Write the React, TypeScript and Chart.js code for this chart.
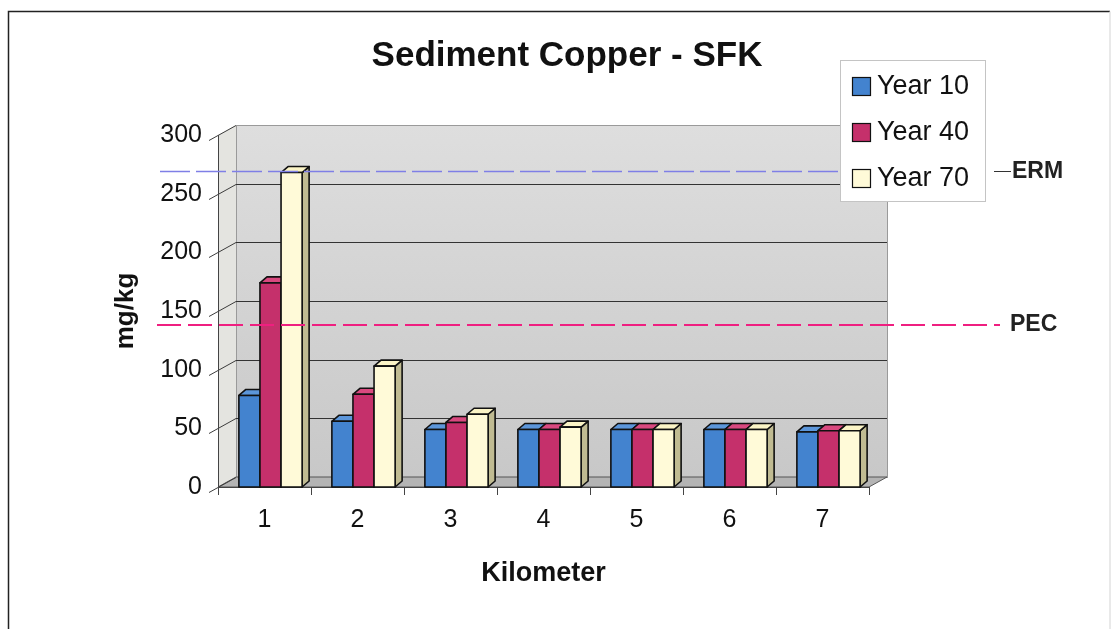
import React, { useEffect, useRef } from "react";
import { Chart, registerables } from "chart.js";

Chart.register(...registerables);

const categories = ["1", "2", "3", "4", "5", "6", "7"];
const seriesNames = ["Year 10", "Year 40", "Year 70"];
const year10 = [78, 56, 49, 49, 49, 49, 47];
const year40 = [174, 79, 55, 49, 49, 49, 48];
const year70 = [268, 103, 62, 51, 49, 49, 48];
const yTicks = [0, 50, 100, 150, 200, 250, 300];
const ermValue = 269;
const pecValue = 138;

const FONT = "'Liberation Sans', Arial, Helvetica, sans-serif";
const frontColors = ["#4383cf", "#c5306b", "#fffad8"];
const sideColors = ["#2f5f9a", "#8e2150", "#c0bb92"];
const topColors = ["#5c96da", "#d9497f", "#fbf4c6"];

const DX = 18;
const DY = -10;
const BDX = 7;
const BDY = -6;
const SHIFT = 6;

const threeD = {
  id: "threeD",
  beforeDatasetsDraw(chart: any) {
    const { ctx, chartArea: a, scales } = chart;
    const y = scales.y;
    const x = scales.x;
    ctx.save();
    // back wall
    const g = ctx.createLinearGradient(0, a.top + DY, 0, a.bottom + DY);
    g.addColorStop(0, "#dedede");
    g.addColorStop(1, "#c8c8c8");
    ctx.fillStyle = g;
    ctx.fillRect(a.left + DX, a.top + DY, a.right - a.left, a.bottom - a.top);
    ctx.strokeStyle = "#9a9a9a";
    ctx.lineWidth = 1;
    ctx.strokeRect(a.left + DX + 0.5, a.top + DY + 0.5, a.right - a.left, a.bottom - a.top);
    // side wall
    ctx.beginPath();
    ctx.moveTo(a.left, a.top);
    ctx.lineTo(a.left + DX, a.top + DY);
    ctx.lineTo(a.left + DX, a.bottom + DY);
    ctx.lineTo(a.left, a.bottom);
    ctx.closePath();
    ctx.fillStyle = "#e4e4e0";
    ctx.fill();
    // floor
    ctx.beginPath();
    ctx.moveTo(a.left, a.bottom);
    ctx.lineTo(a.left + DX, a.bottom + DY);
    ctx.lineTo(a.right + DX, a.bottom + DY);
    ctx.lineTo(a.right, a.bottom);
    ctx.closePath();
    ctx.fillStyle = "#b4b4b4";
    ctx.fill();
    ctx.strokeStyle = "#555";
    ctx.stroke();
    // gridlines on back wall + slanted ticks
    yTicks.forEach((v) => {
      const py = Math.round(y.getPixelForValue(v)) + 0.5;
      if (v > 0 && v < 300) {
        ctx.beginPath();
        ctx.moveTo(a.left + DX, py + DY);
        ctx.lineTo(a.right + DX, py + DY);
        ctx.strokeStyle = "#333";
        ctx.lineWidth = 1.2;
        ctx.stroke();
      }
      ctx.beginPath();
      ctx.moveTo(a.left - 9, py + 5);
      ctx.lineTo(a.left + DX, py + DY);
      ctx.strokeStyle = "#3c3c3c";
      ctx.lineWidth = 1;
      ctx.stroke();
    });
    // front y axis
    ctx.beginPath();
    ctx.moveTo(a.left + 0.5, a.top);
    ctx.lineTo(a.left + 0.5, a.bottom);
    ctx.strokeStyle = "#444";
    ctx.stroke();
    // x axis + ticks at category boundaries
    ctx.beginPath();
    ctx.moveTo(a.left, a.bottom + 0.5);
    ctx.lineTo(a.right, a.bottom + 0.5);
    for (let j = 0; j <= categories.length; j++) {
      const px = Math.round(x.getPixelForValue(j - 0.5)) + 0.5;
      ctx.moveTo(px, a.bottom);
      ctx.lineTo(px, a.bottom + 8);
    }
    ctx.strokeStyle = "#444";
    ctx.stroke();
    ctx.restore();
    ctx.save();
    ctx.translate(SHIFT, 0);
  },
  afterDatasetsDraw(chart: any) {
    const { ctx } = chart;
    const metas = [0, 1, 2].map((i) => chart.getDatasetMeta(i));
    ctx.lineWidth = 1.6;
    ctx.strokeStyle = "#111";
    ctx.lineJoin = "round";
    for (let j = 0; j < categories.length; j++) {
      for (let i = 0; i < metas.length; i++) {
        const el = metas[i].data[j];
        const { x, y, base, width } = el.getProps(["x", "y", "base", "width"], true);
        const l = x - width / 2;
        const r = x + width / 2;
        // side face
        ctx.beginPath();
        ctx.moveTo(r, y);
        ctx.lineTo(r + BDX, y + BDY);
        ctx.lineTo(r + BDX, base + BDY);
        ctx.lineTo(r, base);
        ctx.closePath();
        ctx.fillStyle = sideColors[i];
        ctx.fill();
        ctx.stroke();
        // top face
        ctx.beginPath();
        ctx.moveTo(l, y);
        ctx.lineTo(l + BDX, y + BDY);
        ctx.lineTo(r + BDX, y + BDY);
        ctx.lineTo(r, y);
        ctx.closePath();
        ctx.fillStyle = topColors[i];
        ctx.fill();
        ctx.stroke();
        // front face
        ctx.fillStyle = frontColors[i];
        ctx.fillRect(l, y, width, base - y);
        ctx.strokeRect(l, y, width, base - y);
      }
    }
    ctx.restore();
  },
  afterDraw(chart: any) {
    const { ctx, scales } = chart;
    const y = scales.y;
    ctx.save();
    // outer frame
    ctx.lineWidth = 1.5;
    ctx.strokeStyle = "#222";
    ctx.beginPath();
    ctx.moveTo(8.5, 629);
    ctx.lineTo(8.5, 11.5);
    ctx.lineTo(1110, 11.5);
    ctx.stroke();
    ctx.strokeStyle = "#e2e2e2";
    ctx.beginPath();
    ctx.moveTo(1110, 11.5);
    ctx.lineTo(1110, 629);
    ctx.stroke();

    // title
    ctx.fillStyle = "#111";
    ctx.font = `bold 35px ${FONT}`;
    ctx.textAlign = "center";
    ctx.textBaseline = "middle";
    ctx.fillText("Sediment Copper - SFK", 567, 56);

    // ERM line
    const yErm = Math.round(y.getPixelForValue(ermValue)) + 0.5;
    ctx.setLineDash([30, 6]);
    ctx.strokeStyle = "#7f7fe6";
    ctx.lineWidth = 1.3;
    ctx.beginPath();
    ctx.moveTo(160, yErm);
    ctx.lineTo(840, yErm);
    ctx.stroke();
    // PEC line
    const yPec = Math.round(y.getPixelForValue(pecValue));
    ctx.setLineDash([24, 7]);
    ctx.strokeStyle = "#ef1f80";
    ctx.lineWidth = 2;
    ctx.beginPath();
    ctx.moveTo(157, yPec);
    ctx.lineTo(1000, yPec);
    ctx.stroke();
    ctx.setLineDash([]);

    // ref labels
    ctx.strokeStyle = "#333";
    ctx.lineWidth = 1;
    ctx.beginPath();
    ctx.moveTo(994, yErm);
    ctx.lineTo(1011, yErm);
    ctx.stroke();
    ctx.fillStyle = "#222";
    ctx.font = `bold 23px ${FONT}`;
    ctx.textAlign = "left";
    ctx.textBaseline = "middle";
    ctx.fillText("ERM", 1012, yErm);
    ctx.fillText("PEC", 1010, yPec);

    // legend
    ctx.fillStyle = "#ffffff";
    ctx.fillRect(840, 60, 145, 142);
    ctx.strokeStyle = "#c4c4c4";
    ctx.lineWidth = 1;
    ctx.strokeRect(840.5, 60.5, 145, 141);
    const rows = [86, 132, 178];
    seriesNames.forEach((name, i) => {
      ctx.fillStyle = frontColors[i];
      ctx.fillRect(852, rows[i] - 9, 18, 18);
      ctx.strokeStyle = "#111";
      ctx.lineWidth = 1.2;
      ctx.strokeRect(852.5, rows[i] - 8.5, 18, 18);
      ctx.fillStyle = "#111";
      ctx.font = `27px ${FONT}`;
      ctx.textAlign = "left";
      ctx.textBaseline = "middle";
      ctx.fillText(name, 877, rows[i] + 1);
    });
    ctx.restore();
  },
};

export default function App() {
  const ref = useRef<HTMLCanvasElement | null>(null);
  useEffect(() => {
    if (!ref.current) return;
    const datasets = [year10, year40, year70].map((d, i) => ({
      label: seriesNames[i],
      data: d,
      backgroundColor: frontColors[i],
      borderColor: "#111",
      borderWidth: 1.5,
      categoryPercentage: 0.68,
      barPercentage: 1.0,
    }));
    const chart = new Chart(ref.current, {
      type: "bar",
      data: { labels: categories, datasets },
      options: {
        animation: false,
        responsive: true,
        maintainAspectRatio: false,
        events: [],
        layout: { padding: { top: 135, right: 249, bottom: 30, left: 108 } },
        plugins: {
          legend: { display: false },
          title: { display: false },
          tooltip: { enabled: false },
        },
        scales: {
          x: {
            offset: true,
            grid: { display: false, drawTicks: false },
            border: { display: false },
            ticks: { color: "#111", padding: 18, font: { size: 25, family: FONT } },
            title: {
              display: true,
              text: "Kilometer",
              color: "#111",
              font: { size: 27, weight: "bold", family: FONT },
              padding: { top: 0, bottom: 9 },
            },
            afterFit: (s: any) => {
              s.height = 629 - 30 - 487;
            },
          },
          y: {
            min: 0,
            max: 300,
            grid: { display: false, drawTicks: false },
            border: { display: false },
            ticks: { stepSize: 50, color: "#111", padding: 16, font: { size: 25, family: FONT } },
            title: {
              display: true,
              text: "mg/kg",
              color: "#111",
              font: { size: 26, weight: "bold", family: FONT },
              padding: { top: 2, bottom: 0 },
            },
            afterFit: (s: any) => {
              s.width = 110;
            },
          },
        },
      },
      plugins: [threeD],
    });
    return () => chart.destroy();
  }, []);
  return (
    <div style={{ position: "fixed", left: 0, top: 0, width: 1118, height: 629, background: "#fff" }}>
      <canvas ref={ref} />
    </div>
  );
}
